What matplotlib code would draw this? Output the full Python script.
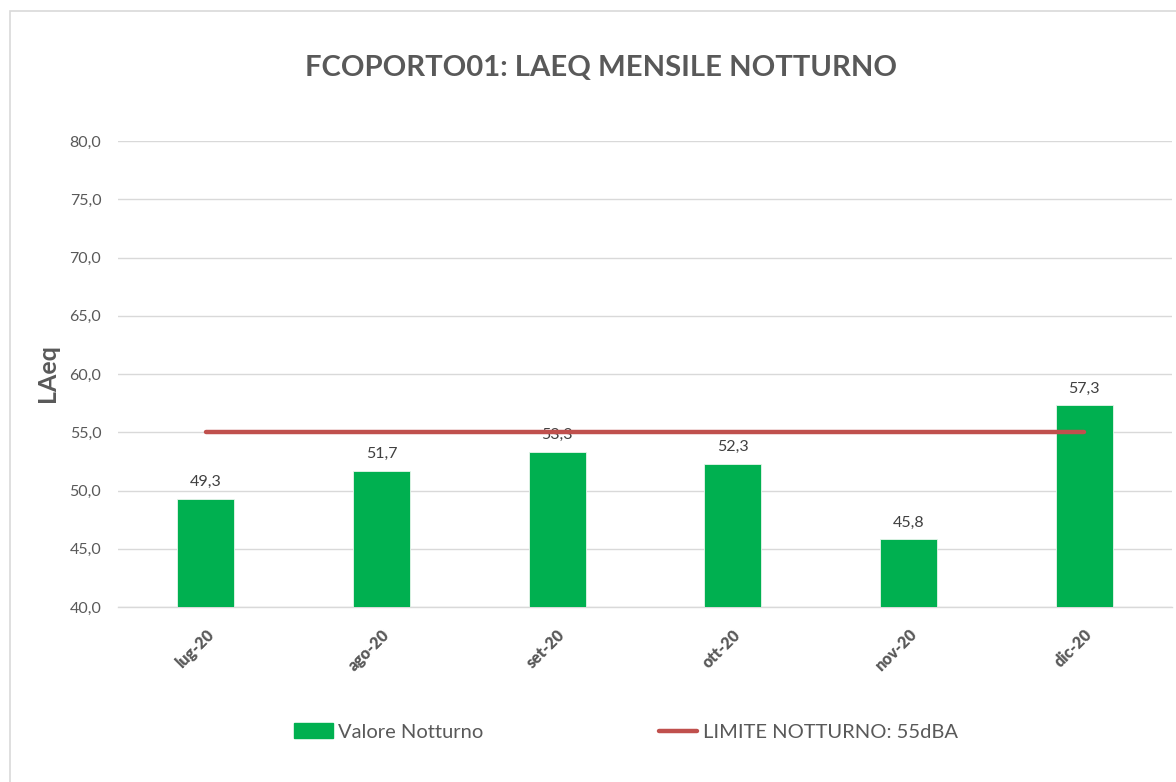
import matplotlib
matplotlib.use("Agg")
import matplotlib.pyplot as plt
from matplotlib.patches import Rectangle, Patch
from matplotlib.lines import Line2D
from matplotlib.ticker import FuncFormatter, MultipleLocator

months = ["lug-20", "ago-20", "set-20", "ott-20", "nov-20", "dic-20"]
laeq_night = [49.3, 51.7, 53.3, 52.3, 45.8, 57.3]
night_limit = [55, 55, 55, 55, 55, 55]

title = "FCOPORTO01: LAEQ MENSILE NOTTURNO"
bar_label = "Valore Notturno"
limit_label = "LIMITE NOTTURNO: 55dBA"

GREEN = "#00B050"
RED = "#C0504D"
GREY_TXT = "#595959"
GRID = "#D9D9D9"

plt.rcParams["font.family"] = ["Lato", "DejaVu Sans"]

W, H = 1176, 782
fig = plt.figure(figsize=(W / 100, H / 100), dpi=100)

# chart frame
fig.patches.append(Rectangle((10 / W, 0 - 0.01), 1.2, 1 - 11 / H + 0.01,
                             transform=fig.transFigure, fill=False,
                             edgecolor="#D9D9D9", linewidth=1.2))

left, right, top, bottom = 118, 1172, 141, 607
ax = fig.add_axes([left / W, 1 - bottom / H, (right - left) / W, (bottom - top) / H])

x = list(range(len(months)))
ax.bar(x, laeq_night, width=0.325, bottom=0, color=GREEN,
       edgecolor="#E8F5EC", linewidth=0.6, zorder=3, label=bar_label)
ax.plot(x, night_limit, color=RED, linewidth=3.2, solid_capstyle="round",
        zorder=4, label=limit_label)

ax.set_ylim(40, 80)
ax.set_xlim(-0.5, len(months) - 0.5)
ax.yaxis.set_major_locator(MultipleLocator(5))
ax.yaxis.set_major_formatter(FuncFormatter(lambda v, p: f"{v:.1f}".replace(".", ",")))
ax.grid(axis="y", color=GRID, linewidth=1.0, zorder=0)
for s in ["top", "right", "left"]:
    ax.spines[s].set_visible(False)
ax.spines["bottom"].set_color(GRID)
ax.spines["bottom"].set_linewidth(1.0)
ax.tick_params(axis="both", length=0, colors=GREY_TXT)
ax.tick_params(axis="y", labelsize=11.5, pad=12)

ax.set_xticks(x)
ax.set_xticklabels(months, rotation=45, ha="right", va="top",
                   rotation_mode="anchor", fontsize=11.5, fontweight="heavy",
                   color=GREY_TXT)
ax.tick_params(axis="x", pad=14)

for xi, v in zip(x, laeq_night):
    ax.annotate(f"{v:.1f}".replace(".", ","), (xi, v), xytext=(0, 7),
                textcoords="offset points", ha="center", va="bottom",
                fontsize=11.5, color="#404040")

ax.set_ylabel("LAeq", fontsize=18, fontweight="bold", color=GREY_TXT)
ax.yaxis.label.set_va("center")
ax.yaxis.set_label_coords((48 - left) / (right - left), (607 - 373) / (bottom - top))

fig.text(601 / W, 1 - 68 / H, title, ha="center", va="center",
         fontsize=21.1, fontweight="bold", color=GREY_TXT)

handles = [Patch(facecolor=GREEN, edgecolor=GREEN),
           Line2D([0], [0], color=RED, linewidth=3.2, solid_capstyle="round")]
fig.legend(handles, [bar_label, limit_label], loc="center",
           bbox_to_anchor=(626 / W, 1 - 732 / H), ncol=2, frameon=False,
           fontsize=14.5, handlelength=1.9, handletextpad=0.25,
           columnspacing=8.75, labelcolor=GREY_TXT)

fig.savefig("out.png", dpi=100, facecolor="white")
